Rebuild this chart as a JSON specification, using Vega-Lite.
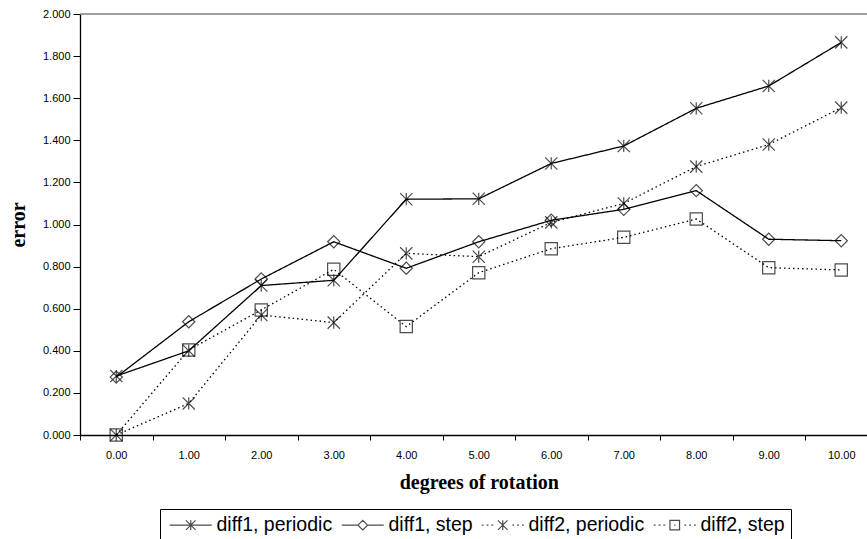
{
  "$schema": "https://vega.github.io/schema/vega-lite/v6.json",
  "width": 787,
  "height": 421,
  "autosize": {"type": "none"},
  "padding": {"left": 80, "top": 14, "right": 0, "bottom": 104},
  "background": "white",
  "config": {
    "view": {"stroke": null},
    "axis": {
      "grid": false,
      "domainColor": "black",
      "domainWidth": 1.3,
      "tickColor": "black",
      "labelColor": "black",
      "titleColor": "black",
      "labelFont": "Liberation Sans",
      "labelFontSize": 11,
      "titleFont": "Liberation Serif",
      "titleFontWeight": "bold",
      "titleFontSize": 20
    }
  },
  "data": {
    "values": [
      {"deg": "0.00", "series": "diff1, periodic", "error": 0.28},
      {"deg": "1.00", "series": "diff1, periodic", "error": 0.40},
      {"deg": "2.00", "series": "diff1, periodic", "error": 0.71},
      {"deg": "3.00", "series": "diff1, periodic", "error": 0.735},
      {"deg": "4.00", "series": "diff1, periodic", "error": 1.12},
      {"deg": "5.00", "series": "diff1, periodic", "error": 1.122},
      {"deg": "6.00", "series": "diff1, periodic", "error": 1.29},
      {"deg": "7.00", "series": "diff1, periodic", "error": 1.373},
      {"deg": "8.00", "series": "diff1, periodic", "error": 1.552},
      {"deg": "9.00", "series": "diff1, periodic", "error": 1.658},
      {"deg": "10.00", "series": "diff1, periodic", "error": 1.865},
      {"deg": "0.00", "series": "diff1, step", "error": 0.275},
      {"deg": "1.00", "series": "diff1, step", "error": 0.538},
      {"deg": "2.00", "series": "diff1, step", "error": 0.741},
      {"deg": "3.00", "series": "diff1, step", "error": 0.918},
      {"deg": "4.00", "series": "diff1, step", "error": 0.792},
      {"deg": "5.00", "series": "diff1, step", "error": 0.918},
      {"deg": "6.00", "series": "diff1, step", "error": 1.02},
      {"deg": "7.00", "series": "diff1, step", "error": 1.072},
      {"deg": "8.00", "series": "diff1, step", "error": 1.161},
      {"deg": "9.00", "series": "diff1, step", "error": 0.93},
      {"deg": "10.00", "series": "diff1, step", "error": 0.923},
      {"deg": "0.00", "series": "diff2, periodic", "error": 0.0},
      {"deg": "1.00", "series": "diff2, periodic", "error": 0.15},
      {"deg": "2.00", "series": "diff2, periodic", "error": 0.57},
      {"deg": "3.00", "series": "diff2, periodic", "error": 0.534},
      {"deg": "4.00", "series": "diff2, periodic", "error": 0.863},
      {"deg": "5.00", "series": "diff2, periodic", "error": 0.847},
      {"deg": "6.00", "series": "diff2, periodic", "error": 1.01},
      {"deg": "7.00", "series": "diff2, periodic", "error": 1.10},
      {"deg": "8.00", "series": "diff2, periodic", "error": 1.275},
      {"deg": "9.00", "series": "diff2, periodic", "error": 1.38},
      {"deg": "10.00", "series": "diff2, periodic", "error": 1.555},
      {"deg": "0.00", "series": "diff2, step", "error": 0.0},
      {"deg": "1.00", "series": "diff2, step", "error": 0.404},
      {"deg": "2.00", "series": "diff2, step", "error": 0.594},
      {"deg": "3.00", "series": "diff2, step", "error": 0.787},
      {"deg": "4.00", "series": "diff2, step", "error": 0.515},
      {"deg": "5.00", "series": "diff2, step", "error": 0.771},
      {"deg": "6.00", "series": "diff2, step", "error": 0.885},
      {"deg": "7.00", "series": "diff2, step", "error": 0.939},
      {"deg": "8.00", "series": "diff2, step", "error": 1.026},
      {"deg": "9.00", "series": "diff2, step", "error": 0.795},
      {"deg": "10.00", "series": "diff2, step", "error": 0.784}
    ]
  },
  "encoding": {
    "x": {
      "field": "deg",
      "type": "ordinal",
      "scale": {
        "type": "band",
        "domain": ["0.00", "1.00", "2.00", "3.00", "4.00", "5.00", "6.00", "7.00", "8.00", "9.00", "10.00"],
        "range": [0, 797.5],
        "paddingInner": 0,
        "paddingOuter": 0
      },
      "axis": {
        "title": "degrees of rotation",
        "labelAngle": 0,
        "tickBand": "extent",
        "tickSize": 5,
        "labelPadding": 9,
        "titlePadding": 12
      }
    },
    "y": {
      "field": "error",
      "type": "quantitative",
      "scale": {"domain": [0, 2], "nice": false, "zero": true},
      "axis": {
        "title": "error",
        "values": [0, 0.2, 0.4, 0.6, 0.8, 1.0, 1.2, 1.4, 1.6, 1.8, 2.0],
        "format": ".3f",
        "tickSize": 7,
        "labelPadding": 3,
        "titlePadding": 14
      }
    }
  },
  "resolve": {"scale": {"shape": "independent"}, "legend": {"shape": "independent"}},
  "layer": [
    {
      "data": {"values": [{"top": 2}]},
      "mark": {"type": "rule", "color": "#808080", "strokeWidth": 1.3},
      "encoding": {"x": null, "y": {"field": "top", "type": "quantitative"}}
    },
    {
      "mark": {"type": "line", "color": "black", "strokeWidth": 1.3},
      "encoding": {
        "strokeDash": {
          "field": "series",
          "type": "nominal",
          "scale": {
            "domain": ["diff1, periodic", "diff1, step", "diff2, periodic", "diff2, step"],
            "range": [[1, 0], [1, 0], [1.5, 3], [1.5, 3]]
          },
          "legend": null
        }
      }
    },
    {
      "mark": {"type": "point", "filled": false, "stroke": "black", "strokeWidth": 1.2, "size": 150},
      "encoding": {
        "shape": {
          "field": "series",
          "type": "nominal",
          "scale": {
            "domain": ["diff1, periodic", "diff1, step", "diff2, periodic", "diff2, step"],
            "range": ["M-1,-1L1,1M-1,1L1,-1M0,-1L0,1", "diamond", "M-1,-1L1,1M-1,1L1,-1M0,-1L0,1", "square"]
          },
          "legend": null
        }
      }
    },
    {
      "transform": [{"filter": "false"}],
      "mark": {"type": "point", "filled": false, "stroke": "black", "strokeWidth": 1.2, "size": 144},
      "encoding": {
        "shape": {
          "field": "series",
          "type": "nominal",
          "scale": {
            "domain": ["diff1, periodic", "diff1, step", "diff2, periodic", "diff2, step"],
            "range": [
              "M-3.5,0L3.5,0M-0.8,-0.8L0.8,0.8M-0.8,0.8L0.8,-0.8M0,-0.8L0,0.8",
              "M-3.5,0L-0.8,0M0.8,0L3.5,0M-0.8,0L0,-0.8L0.8,0L0,0.8Z",
              "M-3.5,0L-3.2,0M-2.7,0L-2.4,0M-1.9,0L-1.6,0M1.6,0L1.9,0M2.4,0L2.7,0M3.2,0L3.5,0M-0.8,-0.8L0.8,0.8M-0.8,0.8L0.8,-0.8M0,-0.8L0,0.8",
              "M-3.5,0L-3.2,0M-2.7,0L-2.4,0M-1.9,0L-1.6,0M1.6,0L1.9,0M2.4,0L2.7,0M3.2,0L3.5,0M-0.8,-0.8L0.8,-0.8L0.8,0.8L-0.8,0.8ZM-0.1,0L0.1,0"
            ]
          },
          "legend": {
            "title": null,
            "orient": "none",
            "legendX": 80,
            "legendY": 495,
            "direction": "horizontal",
            "strokeColor": "black",
            "padding": 6,
            "labelFont": "Liberation Sans",
            "labelFontSize": 19.5,
            "labelColor": "black",
            "symbolSize": 144,
            "symbolStrokeColor": "black",
            "symbolStrokeWidth": 1.2,
            "symbolOffset": 15,
            "labelOffset": 16,
            "columnPadding": 5
          }
        }
      }
    }
  ]
}
